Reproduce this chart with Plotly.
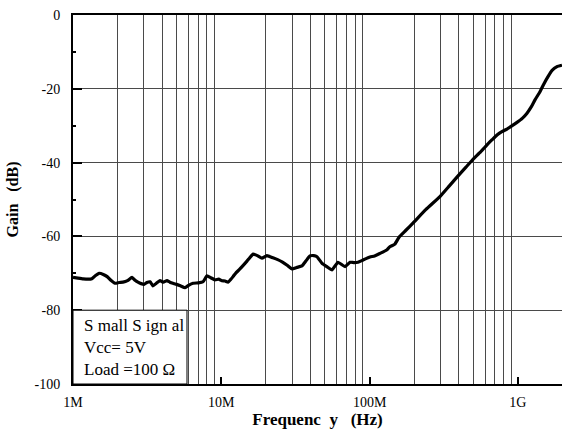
import plotly.graph_objects as go

freq_mhz = [1.0, 1.08, 1.17, 1.26, 1.34, 1.42, 1.50, 1.60, 1.70, 1.80, 1.92, 2.05, 2.17, 2.33, 2.50,
            2.62, 2.74, 2.88, 3.01, 3.15, 3.31, 3.46, 3.65, 3.86, 4.07, 4.30, 4.50, 4.72, 5.0, 5.3,
            5.69, 6.05, 6.45, 7.0, 7.53, 8.01, 8.5, 9.07, 9.6, 10.1, 10.6, 11.1, 11.5, 12.0, 12.6,
            13.3, 14.1, 14.9, 15.6, 16.4, 17.5, 18.8, 20.3, 22.3, 24.0, 25.7, 27.8, 30.0, 32.4, 35.0,
            37.3, 39.6, 42.0, 44.2, 47.8, 51.5, 55.8, 61.2, 68.3, 73.8, 78.5, 83.5, 90.3, 100.6, 108,
            117.5, 131, 137, 148, 158, 175, 196, 240, 298, 345, 395, 445, 498, 560, 619,
            670, 723, 780, 844, 915, 986, 1070, 1152, 1230, 1304, 1409, 1500, 1596, 1700, 1835, 1983]
gain_db = [-71.1, -71.3, -71.5, -71.6, -71.5, -70.6, -70.0, -70.3, -70.9, -71.9, -72.7, -72.5, -72.4, -72.0, -71.1,
           -71.9, -72.4, -72.8, -73.0, -72.5, -72.3, -73.4, -72.7, -72.0, -72.4, -72.0, -72.4, -72.7, -73.0, -73.4,
           -73.9, -73.2, -72.7, -72.6, -72.3, -70.7, -71.2, -71.8, -71.6, -72.0, -72.1, -72.4, -71.8, -70.9, -69.8,
           -68.9, -67.8, -66.7, -65.7, -64.8, -65.2, -65.9, -65.2, -65.8, -66.3, -66.9, -67.8, -68.8, -68.4, -68.0,
           -66.6, -65.3, -65.2, -65.5, -67.3, -68.2, -69.1, -67.0, -68.2, -67.0, -67.1, -67.0, -66.4, -65.6, -65.3,
           -64.6, -63.6, -62.8, -62.1, -60.2, -58.4, -56.4, -52.7, -49.2, -46.3, -43.6, -41.3, -39.1, -37.1, -35.2,
           -33.8, -32.5, -31.6, -30.9, -30.0, -29.1, -28.0, -26.6, -24.9, -23.0, -20.8, -18.6, -16.7, -15.0, -14.0, -13.6]

x_tick_vals = [1e6, 1e7, 1e8, 1e9]
x_tick_text = ["1M", "10M", "100M", "1G"]
y_tick_vals = [0, -20, -40, -60, -80, -100]
y_tick_text = ["0", "-20", "-40", "-60", "-80", "-100"]
minor_x = [m * d for d in [1e6, 1e7, 1e8, 1e9] for m in range(2, 10)]

legend_lines = ["S mall S ign al", "Vcc= 5V", "Load =100 Ω"]

freq_hz = [f * 1e6 for f in freq_mhz]

FONT = "Liberation Serif"

fig = go.Figure()
fig.add_trace(go.Scatter(x=freq_hz, y=gain_db, mode="lines",
                         line=dict(color="black", width=3.2, shape="spline", smoothing=0.4),
                         showlegend=False, hoverinfo="skip"))

fig.update_layout(
    width=562, height=439,
    margin=dict(l=73, r=0, t=15, b=55),
    paper_bgcolor="white", plot_bgcolor="white",
    font=dict(family=FONT, size=14, color="black"),
    xaxis=dict(
        type="log", range=[6, 9.2974],
        tickmode="array", tickvals=x_tick_vals, ticktext=x_tick_text,
        ticks="inside", ticklen=7, tickwidth=2, tickcolor="black",
        showline=True, linewidth=2, linecolor="black", mirror=True,
        showgrid=False, zeroline=False,
        minor=dict(tickmode="array", tickvals=minor_x, showgrid=True,
                   gridcolor="#4a4a4a", gridwidth=1, ticks=""),
        tickfont=dict(family=FONT, size=14),
        ticklabelstandoff=4,
        title=dict(text="<b>Frequenc  y   (Hz)</b>", font=dict(family=FONT, size=17), standoff=3),
    ),
    yaxis=dict(
        range=[-100, 0],
        tickmode="array", tickvals=y_tick_vals, ticktext=y_tick_text,
        ticks="inside", ticklen=9, tickwidth=2, tickcolor="black",
        showline=True, linewidth=2, linecolor="black",
        showgrid=True, gridcolor="#4a4a4a", gridwidth=1, zeroline=False,
        minor=dict(tickmode="array", tickvals=[-10, -30, -50, -70, -90], ticks="inside",
                   ticklen=3, tickwidth=2, tickcolor="black", showgrid=False),
        tickfont=dict(family=FONT, size=14),
        ticklabelstandoff=8,
        title=dict(text="<b>Gain   (dB)</b>", font=dict(family=FONT, size=16), standoff=12),
    ),
)

# legend-like info box
fig.add_shape(type="rect", xref="paper", yref="y", x0=0, x1=0.2331, y0=-100, y1=-80,
              fillcolor="white", line=dict(color="black", width=1), layer="above")
fig.add_annotation(xref="paper", yref="y", x=0.018, y=-90, xanchor="left", yanchor="middle",
                   text="<br>".join(legend_lines), align="left", showarrow=False,
                   font=dict(family=FONT, size=17, color="black"))

fig.write_html("out.html")
